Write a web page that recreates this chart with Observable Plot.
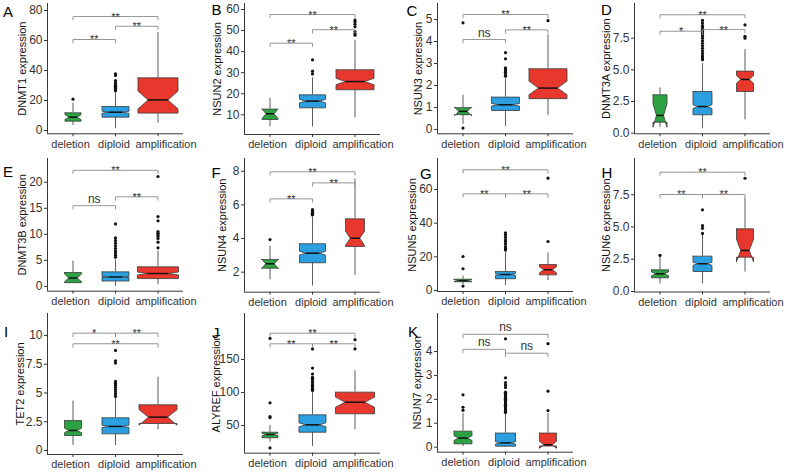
<!DOCTYPE html>
<html><head><meta charset="utf-8">
<script src="https://cdn.jsdelivr.net/npm/d3@7"></script>
<script src="https://cdn.jsdelivr.net/npm/@observablehq/plot@0.6"></script>
<style>
html,body{margin:0;padding:0;background:#fff;}
#wrap{position:relative;width:791px;height:472px;overflow:hidden;font-family:"Liberation Sans",Arial,sans-serif;background:#fff;}
.letter{position:absolute;font-size:15px;line-height:15px;color:#000;}
</style></head><body><div id="wrap"></div>
<script>
// ---------- data ----------
const groups = ["deletion", "diploid", "amplification"];
const genes = ["DNMT1","NSUN2","NSUN3","DNMT3A","DNMT3B","NSUN4","NSUN5","NSUN6","TET2","ALYREF","NSUN7"];
const letters = ["A","B","C","D","E","F","G","H","I","J","K"];

// stats per group: [lower whisker, q1, median, q3, upper whisker, notch low, notch high]
const dnmt1Stats = [[3.3,6.2,8.9,11.8,18.2,7.3,10.5],[1.5,8.9,12.2,16.0,25.5,11.5,12.9],[4.9,11.6,20.4,35.1,65.5,14.4,26.4]];
const dnmt1Out = [[20.9],[26.5,27.3,28,28.7,29.5,30.2,31,32,33.3,36.7,37.8],[]];
const dnmt1Sig = [[1,2,"**",60.7],[2,3,"**",69.5],[1,3,"**",76]];
const dnmt1Ticks = [0,20,40,60,80];
const dnmt1TickLabels = ["0","20","40","60","80"];
const dnmt1Domain = [-2.2,84.7];

const nsun2Stats = [[4.2,7.8,10.5,12.7,18,8.2,12.8],[4.2,13.3,16.5,19.5,27.6,15.7,17.3],[8.6,21.9,25.8,31.4,45.3,24.3,27.3]];
const nsun2Out = [[],[29.4,30.7,36.1],[47.8,48.6,49.5,51.8,53,54.2,55]];
const nsun2Sig = [[1,2,"**",44],[2,3,"**",50.4],[1,3,"**",57.6]];
const nsun2Ticks = [10,20,30,40,50,60];
const nsun2TickLabels = ["10","20","30","40","50","60"];
const nsun2Domain = [0.65,62.85];

const nsun3Stats = [[0.23,0.67,0.82,0.99,1.55,0.62,1.02],[0.14,0.86,1.12,1.47,2.3,1.06,1.18],[0.64,1.4,1.88,2.76,4.3,1.58,2.2]];
const nsun3Out = [[0.06,4.85],[2.42,2.5,2.6,2.68,2.75,2.8,3.21,3.49],[4.95]];
const nsun3Sig = [[1,2,"ns",4.09],[2,3,"**",4.53],[1,3,"**",5.23]];
const nsun3Ticks = [0,1,2,3,4,5];
const nsun3TickLabels = ["0","1","2","3","4","5"];
const nsun3Domain = [-0.2,5.73];

const dnmt3aStats = [[0.45,0.87,1.4,3.03,3.58,0.47,2.32],[0.35,1.45,2.1,3.29,5.48,1.95,2.25],[1.05,3.29,4.24,4.9,6.6,3.95,4.55]];
const dnmt3aOut = [[],[5.8,5.95,6.1,6.3,6.5,6.7,6.9,7.1,7.3,7.5,7.7,7.9,8.05,8.2,8.35,8.5,8.7,8.9],[7.5,7.65,8.55]];
const dnmt3aSig = [[1,2,"*",8.05],[2,3,"**",8.18],[1,3,"**",9.35]];
const dnmt3aTicks = [0,2.5,5,7.5];
const dnmt3aTickLabels = ["0.0","2.5","5.0","7.5"];
const dnmt3aDomain = [-0.05,10.24];

const dnmt3bStats = [[0.6,0.72,1.62,2.67,4.87,0.9,2.4],[0.0,1.03,1.81,2.79,5.07,1.69,1.93],[0.3,1.5,2.47,3.76,6.8,2.2,2.75]];
const dnmt3bOut = [[],[5.6,6.0,6.4,6.8,7.3,7.8,8.3,8.8,9.3,12.0],[7.4,8.5,9.2,9.6,9.9,10.2,10.5,12.6,13.4,21.1]];
const dnmt3bSig = [[1,2,"ns",15.5],[2,3,"**",17.2],[1,3,"**",22.3]];
const dnmt3bTicks = [0,5,10,15,20];
const dnmt3bTickLabels = ["0","5","10","15","20"];
const dnmt3bDomain = [-0.92,24.56];

const nsun4Stats = [[1.55,2.24,2.5,2.75,3.55,2.22,2.78],[1.17,2.56,3.13,3.69,5.27,3.02,3.24],[1.8,3.53,4.02,5.17,7.55,3.6,4.44]];
const nsun4Out = [[3.94],[5.4,5.45,5.5,5.55,5.6,5.65,5.72],[]];
const nsun4Sig = [[1,2,"**",6.36],[2,3,"**",7.31],[1,3,"**",7.97]];
const nsun4Ticks = [2,4,6,8];
const nsun4TickLabels = ["2","4","6","8"];
const nsun4Domain = [0.81,8.76];

const nsun5Stats = [[3.5,5.2,5.9,6.7,8.5,5.3,6.5],[3.0,7.0,9.5,11.3,22.8,9.0,10.0],[5.9,9.3,12.3,15.4,22.4,10.5,14.1]];
const nsun5Out = [[2.6,12.9,20.2],[24,25,26,27.6,29,30,31.5,33,34.3],[29.1,66.7]];
const nsun5Sig = [[1,2,"**",57.4],[2,3,"**",57.4],[1,3,"**",71.7]];
const nsun5Ticks = [0,20,40,60];
const nsun5TickLabels = ["0","20","40","60"];
const nsun5Domain = [-0.6,78.4];

const nsun6Stats = [[0.6,1.06,1.37,1.68,2.74,1.22,1.52],[0.6,1.55,2.15,2.74,4.4,2.03,2.27],[1.5,2.66,3.18,4.86,7.23,2.3,4.05]];
const nsun6Out = [[2.8],[4.5,4.9,5.1,6.33],[8.78]];
const nsun6Sig = [[1,2,"**",7.52],[2,3,"**",7.52],[1,3,"**",9.25]];
const nsun6Ticks = [0,2.5,5,7.5];
const nsun6TickLabels = ["0.0","2.5","5.0","7.5"];
const nsun6Domain = [-0.04,10.31];

const tet2Stats = [[0.43,1.3,1.74,2.6,4.29,1.54,1.94],[0.43,1.45,2.09,2.84,4.55,1.99,2.19],[1.8,2.35,2.9,3.97,6.37,2.2,3.55]];
const tet2Out = [[],[4.7,4.9,5.1,5.3,5.5,5.7,5.85,6.0,7.6,7.8,8.7],[]];
const tet2Sig = [[1,2,"*",10.2],[2,3,"**",10.2],[1,3,"**",9.28]];
const tet2Ticks = [0,2.5,5,7.5,10];
const tet2TickLabels = ["0","2.5","5","7.5","10"];
const tet2Domain = [-0.35,11.91];

const alyrefStats = [[24.7,31.4,36.4,39.8,50,34.4,38.4],[18.2,39.8,51,66.2,101,48,54],[43.5,67.7,85.3,100.5,133,77.7,93]];
const alyrefOut = [[16,61.7,63.6,84.4,182],[103,105,107,109,111,113,116,119,121,123,128,137,166],[166,180]];
const alyrefSig = [[1,2,"**",173.8],[2,3,"**",173.8],[1,3,"**",189.8]];
const alyrefTicks = [50,100,150];
const alyrefTickLabels = ["50","100","150"];
const alyrefDomain = [8,219.7];

const nsun7Stats = [[0.02,0.14,0.38,0.67,1.4,0.28,0.48],[0,0.04,0.18,0.59,1.4,0.13,0.23],[0,0.05,0.1,0.59,1.4,-0.05,0.25]];
const nsun7Out = [[1.54,1.67,2.19],[1.45,1.5,1.55,1.6,1.65,1.7,1.75,1.8,1.85,1.9,1.95,2.0,2.05,2.1,2.15,2.2,2.25,2.3,2.5,2.6,2.7,2.9,4.53],[1.53,2.34,4.33]];
const nsun7Sig = [[1,2,"ns",4.09],[2,3,"ns",3.93],[1,3,"ns",4.72]];
const nsun7Ticks = [0,1,2,3,4];
const nsun7TickLabels = ["0","1","2","3","4"];
const nsun7Domain = [-0.21,5.59];

// ---------- table built from the arrays ----------
const panels = [
  [dnmt1Stats, dnmt1Out, dnmt1Sig, dnmt1Ticks, dnmt1TickLabels, dnmt1Domain],
  [nsun2Stats, nsun2Out, nsun2Sig, nsun2Ticks, nsun2TickLabels, nsun2Domain],
  [nsun3Stats, nsun3Out, nsun3Sig, nsun3Ticks, nsun3TickLabels, nsun3Domain],
  [dnmt3aStats, dnmt3aOut, dnmt3aSig, dnmt3aTicks, dnmt3aTickLabels, dnmt3aDomain],
  [dnmt3bStats, dnmt3bOut, dnmt3bSig, dnmt3bTicks, dnmt3bTickLabels, dnmt3bDomain],
  [nsun4Stats, nsun4Out, nsun4Sig, nsun4Ticks, nsun4TickLabels, nsun4Domain],
  [nsun5Stats, nsun5Out, nsun5Sig, nsun5Ticks, nsun5TickLabels, nsun5Domain],
  [nsun6Stats, nsun6Out, nsun6Sig, nsun6Ticks, nsun6TickLabels, nsun6Domain],
  [tet2Stats, tet2Out, tet2Sig, tet2Ticks, tet2TickLabels, tet2Domain],
  [alyrefStats, alyrefOut, alyrefSig, alyrefTicks, alyrefTickLabels, alyrefDomain],
  [nsun7Stats, nsun7Out, nsun7Sig, nsun7Ticks, nsun7TickLabels, nsun7Domain]
].map(([stats, out, sig, ticks, labels, domain], i) => ({gene: genes[i], letter: letters[i], stats, out, sig, ticks, labels, domain}));

// ---------- layout / style ----------
const colors = ["#2ca243", "#2b9fe0", "#e8382d"];
const labelDx = [-2.5, -1.5, 8];
const layout = [
  {ax:47,    top:3,   bottom:133.3, titleDx:-25, lx:3,     ly:17,  w:[16,27,40]},
  {ax:244.3, top:3,   bottom:134,   titleDx:-27, lx:211.5, ly:15,  w:[16,26,38]},
  {ax:437,   top:3,   bottom:133.3, titleDx:-19, lx:406.5, ly:16,  w:[17,28,38]},
  {ax:634.3, top:3,   bottom:133.3, titleDx:-28, lx:601,   ly:15,  w:[14,19,17]},
  {ax:47,    top:158, bottom:290.7, titleDx:-25, lx:3,     ly:177, w:[17,27,41]},
  {ax:244.3, top:158, bottom:291.7, titleDx:-22, lx:211.5, ly:178, w:[17,26,19]},
  {ax:436.7, top:158, bottom:291,   titleDx:-25.5, lx:420, ly:179, w:[18,20,17]},
  {ax:634.3, top:158, bottom:291.5, titleDx:-28, lx:601.5, ly:178, w:[17,19,17]},
  {ax:47,    top:313, bottom:454,   titleDx:-27, lx:4,     ly:337, w:[17,27,38]},
  {ax:244.3, top:313, bottom:452.7, titleDx:-28, lx:212,   ly:338, w:[16,27,39]},
  {ax:436.7, top:313, bottom:451.7, titleDx:-20, lx:408,   ly:337, w:[18,20,17]}
];

const wrap = document.getElementById("wrap");
const MT = 12, MB = 26, ML = 47, XR = 136, MR = 16;
const unitPx = XR / 3.2;
const font = "'Liberation Sans', Arial, sans-serif";

panels.forEach((P, p) => {
  const L = layout[p];
  const rows = P.stats.map((s, i) => ({x: i + 1, lo: s[0], q1: s[1], med: s[2], q3: s[3], hi: s[4], nl: s[5], nu: s[6], w: L.w[i] / unitPx}));
  const polys = rows.map(r => {
    const a = r.x - r.w / 2, b = r.x + r.w / 2, ia = r.x - r.w / 4, ib = r.x + r.w / 4;
    return [[a, r.q3], [a, r.nu], [ia, r.med], [a, r.nl], [a, r.q1], [b, r.q1], [b, r.nl], [ib, r.med], [b, r.nu], [b, r.q3], [a, r.q3]]
      .map(([x, y]) => ({x, y}));
  });
  const outs = P.out.flatMap((arr, i) => arr.map(v => ({x: i + 1, y: v})));
  const tip = (P.domain[1] - P.domain[0]) * 0.025;
  const brackets = P.sig.flatMap((s, k) => [[s[0], s[3] - tip], [s[0], s[3]], [s[1], s[3]], [s[1], s[3] - tip]].map(([x, y]) => ({x, y, k})));
  const lbls = P.sig.map(s => ({x: (s[0] + s[1]) / 2, y: s[3], t: s[2]}));
  const h = L.bottom - L.top;

  const marks = [
    Plot.ruleY([P.domain[0]], {stroke: "#222", strokeWidth: 0.9}),
    Plot.ruleX([0.4], {stroke: "#222", strokeWidth: 0.9}),
    Plot.axisY({ticks: P.ticks, tickFormat: d => P.labels[P.ticks.indexOf(d)], tickSize: 3, tickPadding: 2, fontSize: 12, color: "#333", label: null}),
    Plot.axisX({ticks: [1, 2, 3], tickFormat: () => "", tickSize: 3, color: "#333", label: null}),
    ...groups.map((g, i) => Plot.axisX({ticks: [i + 1], tickFormat: () => g, tickSize: 0, tickPadding: 6, dx: labelDx[i], fontSize: 11, color: "#333", label: null})),
    Plot.ruleX(rows, {x: "x", y1: "q3", y2: "hi", stroke: "#333", strokeWidth: 0.8}),
    Plot.ruleX(rows, {x: "x", y1: "q1", y2: "lo", stroke: "#333", strokeWidth: 0.8}),
    ...polys.map((poly, i) => Plot.line(poly, {x: "x", y: "y", fill: colors[i], stroke: "#3a3a3a", strokeWidth: 0.8, curve: "linear"})),
    Plot.link(rows, {x1: d => d.x - d.w / 4, x2: d => d.x + d.w / 4, y1: "med", y2: "med", stroke: "#111", strokeWidth: 1.5}),
    Plot.dot(outs, {x: "x", y: "y", r: 1.6, fill: "#111", stroke: null}),
    Plot.line(brackets, {x: "x", y: "y", z: "k", stroke: "#8a8a8a", strokeWidth: 0.9}),
    Plot.text(lbls.filter(d => d.t !== "ns"), {x: "x", y: "y", text: "t", fontSize: 11, lineAnchor: "bottom", dy: 4, fill: "#333"}),
    Plot.text(lbls.filter(d => d.t === "ns"), {x: "x", y: "y", text: "t", fontSize: 12, lineAnchor: "bottom", dy: -3, fill: "#333"}),
    Plot.text([P.gene + " expression"], {frameAnchor: "left", textAnchor: "middle", lineAnchor: "middle", rotate: -90, dx: L.titleDx, fontSize: 11, fill: "#111"})
  ];

  const chart = Plot.plot({
    width: ML + XR + MR, height: MT + h + MB,
    marginLeft: ML, marginRight: MR, marginTop: MT, marginBottom: MB,
    style: {background: "transparent", overflow: "visible", fontFamily: font},
    x: {domain: [0.4, 3.6], axis: null, label: null},
    y: {domain: P.domain, axis: null, label: null},
    marks
  });
  chart.style.position = "absolute";
  chart.style.left = (L.ax - ML) + "px";
  chart.style.top = (L.top - MT) + "px";
  wrap.appendChild(chart);

  const letter = document.createElement("div");
  letter.className = "letter";
  letter.textContent = P.letter;
  letter.style.left = L.lx + "px";
  letter.style.top = (L.ly - 12.7) + "px";
  wrap.appendChild(letter);
});
</script>
</body></html>
